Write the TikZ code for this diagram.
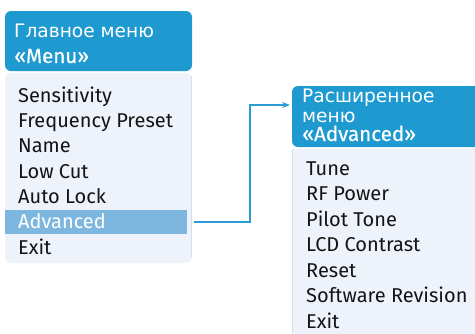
\documentclass[tikz,border=0pt]{standalone}
\usepackage{fontspec}
\setmainfont{Fira Sans}
\newfontfamily\cyrfont{DejaVu Sans}
\newfontfamily\hdfont{Fira Sans}[FakeBold=0.4]
\usetikzlibrary{arrows.meta}
\definecolor{hdblue}{HTML}{1E9AD0}
\definecolor{bodybg}{HTML}{EEF3FB}
\definecolor{hilite}{HTML}{7DB7DF}
\definecolor{linkblue}{HTML}{2A9BD5}
\definecolor{edgeblue}{HTML}{CFE0F2}
\tikzset{
  item/.style={anchor=base west, inner sep=0pt, font=\fontsize{20}{22}\selectfont, text=black!92},
  hdcyr/.style={anchor=base west, inner sep=0pt, font=\cyrfont\fontsize{18.6}{20}\selectfont, text=white},
  hdlat/.style={anchor=base west, inner sep=0pt, font=\hdfont\fontsize{20.6}{22}\selectfont, text=white},
  link/.style={draw=linkblue, line width=1.1pt, -{Stealth[length=8pt,width=6pt]}},
}
\begin{document}
\begin{tikzpicture}[x=1pt,y=-1pt]
\useasboundingbox (0,0) rectangle (475,333);
% left panel
\fill[hdblue, rounded corners=6pt] (5,71) -- (5,11) -- (192,11) -- (192,71) -- cycle;
\fill[bodybg, rounded corners=6pt] (5,73) -- (5,263) -- (192,263) -- (192,73) -- cycle;
\draw[edgeblue, line width=0.8pt] (191.5,76) -- (191.5,257);
\node[hdcyr] (lh1) at (14,37) {Главное меню};
\node[hdlat] (lh2) at (14,63) {«Menu»};
\fill[hilite] (5,210) rectangle (187,234);
\node[item] (l1) at (18,102) {Sensitivity};
\node[item] (l2) at (18,127.3) {Frequency Preset};
\node[item] (l3) at (18,152.7) {Name};
\node[item] (l4) at (18,178) {Low Cut};
\node[item] (l5) at (18,203.3) {Auto Lock};
\node[item, text=white] (l6) at (18,228.7) {Advanced};
\node[item] (l7) at (18,254) {Exit};
\coordinate (advend) at (187,222);
% right panel
\fill[hdblue, rounded corners=6pt] (292,147) -- (292,86) -- (480,86) -- (480,147) -- cycle;
\fill[bodybg] (292,149) rectangle (480,340);
\draw[edgeblue, line width=0.8pt] (292.5,149) -- (292.5,333);
\node[hdcyr] (rh1) at (302,102) {Расширенное};
\node[hdcyr] (rh2) at (302,122) {меню};
\node[hdlat] (rh3) at (302,141) {«Advanced»};
\node[item] (r1) at (306,175) {Tune};
\node[item] (r2) at (306,200.5) {RF Power};
\node[item] (r3) at (306,226) {Pilot Tone};
\node[item] (r4) at (306,251.5) {LCD Contrast};
\node[item] (r5) at (306,277) {Reset};
\node[item] (r6) at (306,302.5) {Software Revision};
\node[item] (r7) at (306,328) {Exit};
% connector
\coordinate (bend) at (250,105);
\coordinate (tgt) at (290,105);
\draw[link, shorten <=7pt] (advend) -| (bend) -- (tgt);
\end{tikzpicture}
\end{document}
